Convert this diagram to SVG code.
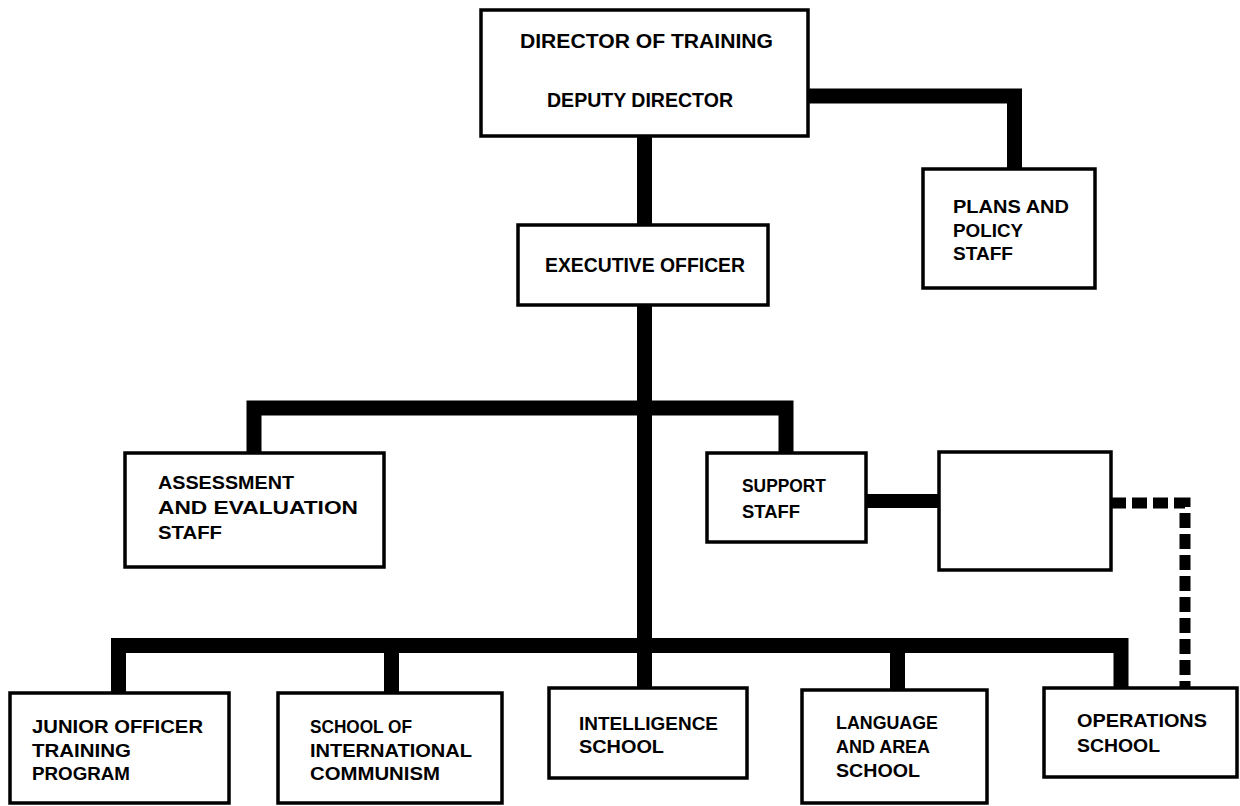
<svg xmlns="http://www.w3.org/2000/svg" width="1240" height="806" viewBox="0 0 1240 806">
<style>
.box{fill:#fff;stroke:#000;stroke-width:3.5}
.ln{fill:none;stroke:#000;stroke-width:15;stroke-linejoin:miter;stroke-linecap:butt}
.dash{fill:none;stroke:#000;stroke-width:11;stroke-dasharray:15 6}
text{font-family:"Liberation Sans",Arial,sans-serif;font-weight:bold;font-size:19px;fill:#000}
.big{font-size:21px}
</style>
<rect width="1240" height="806" fill="#fff"/>
<g id="connectors">
<path class="ln" d="M644.5,136 V225"/>
<path class="ln" d="M808,96 H1014.5 V169"/>
<path class="ln" d="M644.5,305 V688"/>
<path class="ln" d="M254,453 V408 H786 V453"/>
<path class="ln" d="M118.5,693 V645.5 H1121 V688"/>
<path class="ln" d="M391.5,645 V693"/>
<path class="ln" d="M897.5,645 V690"/>
<path class="ln" stroke-width="14" d="M866,501 H939" style="stroke-width:14"/>
<path class="dash" d="M1111,503 H1185 V688"/>
</g>
<g id="director">
<rect class="box" x="481" y="10" width="327" height="126"/>
<text class="big" x="520" y="48" textLength="253" lengthAdjust="spacingAndGlyphs">DIRECTOR OF TRAINING</text>
<text class="big" x="547" y="107" textLength="186" lengthAdjust="spacingAndGlyphs">DEPUTY DIRECTOR</text>
</g>
<g id="plans">
<rect class="box" x="923" y="169" width="172" height="119"/>
<text x="953" y="213" textLength="116" lengthAdjust="spacingAndGlyphs">PLANS AND</text>
<text x="953" y="237" textLength="70" lengthAdjust="spacingAndGlyphs">POLICY</text>
<text x="953" y="260" textLength="60" lengthAdjust="spacingAndGlyphs">STAFF</text>
</g>
<g id="executive">
<rect class="box" x="518" y="225" width="250" height="80"/>
<text class="big" x="545" y="272" textLength="200" lengthAdjust="spacingAndGlyphs">EXECUTIVE OFFICER</text>
</g>
<g id="assessment">
<rect class="box" x="125" y="453" width="259" height="114"/>
<text x="158" y="489" textLength="136" lengthAdjust="spacingAndGlyphs">ASSESSMENT</text>
<text x="158" y="514" textLength="200" lengthAdjust="spacingAndGlyphs">AND EVALUATION</text>
<text x="158" y="539" textLength="64" lengthAdjust="spacingAndGlyphs">STAFF</text>
</g>
<g id="support">
<rect class="box" x="707" y="453" width="159" height="89"/>
<text x="742" y="492" textLength="84" lengthAdjust="spacingAndGlyphs">SUPPORT</text>
<text x="742" y="518" textLength="58" lengthAdjust="spacingAndGlyphs">STAFF</text>
</g>
<g id="blank">
<rect class="box" x="939" y="452" width="172" height="118"/>
</g>
<g id="jotp">
<rect class="box" x="10" y="693" width="219" height="110"/>
<text x="32" y="733" textLength="171" lengthAdjust="spacingAndGlyphs">JUNIOR OFFICER</text>
<text x="32" y="757" textLength="99" lengthAdjust="spacingAndGlyphs">TRAINING</text>
<text x="32" y="780" textLength="98" lengthAdjust="spacingAndGlyphs">PROGRAM</text>
</g>
<g id="sic">
<rect class="box" x="278" y="693" width="224" height="110"/>
<text x="310" y="733" textLength="102" lengthAdjust="spacingAndGlyphs">SCHOOL OF</text>
<text x="310" y="757" textLength="162" lengthAdjust="spacingAndGlyphs">INTERNATIONAL</text>
<text x="310" y="780" textLength="130" lengthAdjust="spacingAndGlyphs">COMMUNISM</text>
</g>
<g id="intelligence">
<rect class="box" x="549" y="688" width="198" height="90"/>
<text x="579" y="730" textLength="139" lengthAdjust="spacingAndGlyphs">INTELLIGENCE</text>
<text x="579" y="753" textLength="85" lengthAdjust="spacingAndGlyphs">SCHOOL</text>
</g>
<g id="language">
<rect class="box" x="802" y="690" width="185" height="113"/>
<text x="836" y="729" textLength="102" lengthAdjust="spacingAndGlyphs">LANGUAGE</text>
<text x="836" y="753" textLength="94" lengthAdjust="spacingAndGlyphs">AND AREA</text>
<text x="836" y="777" textLength="84" lengthAdjust="spacingAndGlyphs">SCHOOL</text>
</g>
<g id="operations">
<rect class="box" x="1044" y="688" width="193" height="89"/>
<text x="1077" y="727" textLength="130" lengthAdjust="spacingAndGlyphs">OPERATIONS</text>
<text x="1077" y="752" textLength="83" lengthAdjust="spacingAndGlyphs">SCHOOL</text>
</g>
</svg>
